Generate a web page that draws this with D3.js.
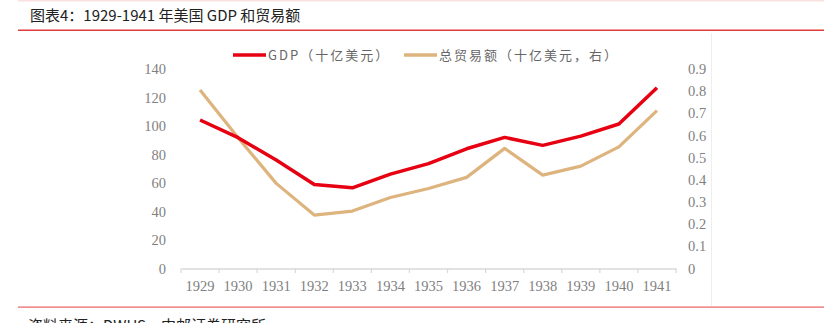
<!DOCTYPE html>
<html><head><meta charset="utf-8">
<script src="https://cdn.jsdelivr.net/npm/d3@7"></script>
<style>
html,body{margin:0;padding:0;background:#fff;}
svg{display:block;}
</style></head>
<body>
<svg id="c" width="837" height="323"></svg>
<script>
const years = ["1929","1930","1931","1932","1933","1934","1935","1936","1937","1938","1939","1940","1941"];
const gdp = [104.2, 91.8, 76.1, 59.0, 56.6, 66.2, 73.6, 84.0, 92.0, 86.4, 92.9, 101.4, 126.9];
const trade = [0.805, 0.59, 0.384, 0.241, 0.259, 0.320, 0.361, 0.411, 0.542, 0.421, 0.462, 0.549, 0.712];
const leftTicks = [0,20,40,60,80,100,120,140];
const rightTicks = [0,0.1,0.2,0.3,0.4,0.5,0.6,0.7,0.8,0.9];
const rightTickLabels = ["0","0.1","0.2","0.3","0.4","0.5","0.6","0.7","0.8","0.9"];
const titleText = "图表4：1929-1941 年美国 GDP 和贸易额";
const sourceText = "资料来源：DWUS，中邮证券研究所";
const legendNames = ["GDP（十亿美元）","总贸易额（十亿美元，右）"];

const svg = d3.select("#c");
const red = "#E60012", tan = "#DDB47E";
const cjk = "'Noto Sans CJK SC','Noto Sans',sans-serif";
const serif = "'Liberation Serif','Times New Roman',serif";

// frame lines
svg.append("rect").attr("x",18).attr("y",0).attr("width",806).attr("height",1.5).attr("fill","#fbe0e0");
svg.append("rect").attr("x",18).attr("y",29.5).attr("width",806).attr("height",1.5).attr("fill","#e23b3b");
svg.append("rect").attr("x",18).attr("y",306.5).attr("width",806).attr("height",1.2).attr("fill","#e86060");
svg.append("rect").attr("x",711).attr("y",33).attr("width",1).attr("height",273).attr("fill","#eeeeee");

svg.append("text").attr("x",30).attr("y",21).attr("font-family",cjk).attr("font-size",15)
  .attr("fill","#222").text(titleText);
svg.append("text").attr("x",28).attr("y",331).attr("font-family",cjk).attr("font-size",15)
  .attr("fill","#222").text(sourceText);

const x = d3.scaleBand().domain(years).range([181,676]);
const yL = d3.scaleLinear().domain([0,140]).range([268.5,69]);
const yR = d3.scaleLinear().domain([0,0.9]).range([268.5,69]);

// x axis
const xa = svg.append("g").attr("transform","translate(0,268.5)")
  .call(d3.axisBottom(x).tickSize(0).tickPadding(12));
xa.select(".domain").attr("stroke","#d9d9d9").attr("stroke-width",1.5);
xa.selectAll(".tick text").attr("font-family",serif).attr("font-size",14.5).attr("fill","#7f7f7f");
// band boundary ticks
const bounds = years.map(d=>x(d)).concat([x.range()[1]]);
xa.selectAll(".bt").data(bounds).enter().append("line").attr("class","bt")
  .attr("x1",d=>d).attr("x2",d=>d).attr("y1",0).attr("y2",4.5)
  .attr("stroke","#d9d9d9").attr("stroke-width",1.2);

// left axis
const la = svg.append("g").attr("transform","translate(166,0)")
  .call(d3.axisLeft(yL).tickValues(leftTicks).tickSize(0).tickPadding(0));
la.select(".domain").remove();
la.selectAll(".tick text").attr("font-family",serif).attr("font-size",14.5).attr("fill","#7f7f7f");

// right axis
const ra = svg.append("g").attr("transform","translate(688,0)")
  .call(d3.axisRight(yR).tickValues(rightTicks).tickFormat((d,i)=>rightTickLabels[i]).tickSize(0).tickPadding(0));
ra.select(".domain").remove();
ra.selectAll(".tick text").attr("font-family",serif).attr("font-size",14.5).attr("fill","#7f7f7f");

const cx = d => x(d) + x.bandwidth()/2;
const lineL = d3.line().x((d,i)=>cx(years[i])).y(d=>yL(d));
const lineR = d3.line().x((d,i)=>cx(years[i])).y(d=>yR(d));

svg.append("path").datum(trade).attr("d",lineR).attr("fill","none")
  .attr("stroke",tan).attr("stroke-width",3.2).attr("stroke-linejoin","round");
svg.append("path").datum(gdp).attr("d",lineL).attr("fill","none")
  .attr("stroke",red).attr("stroke-width",3.5).attr("stroke-linejoin","round");

// legend
const leg = [{x:233,c:red},{x:404,c:tan}];
leg.forEach((l,i)=>{
  svg.append("line").attr("x1",l.x).attr("x2",l.x+33).attr("y1",55).attr("y2",55)
    .attr("stroke",l.c).attr("stroke-width",3.5);
  svg.append("text").attr("x",l.x+35).attr("y",60).attr("font-family",cjk).attr("font-size",13)
    .attr("letter-spacing",2).attr("fill","#666").text(legendNames[i]);
});
</script>
</body></html>
